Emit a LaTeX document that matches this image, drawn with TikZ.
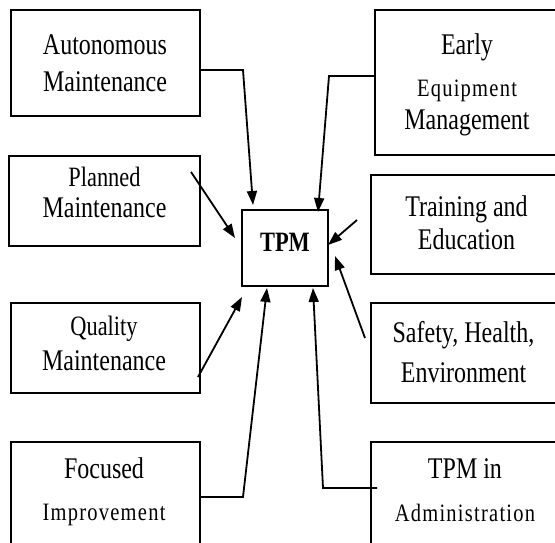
\documentclass[tikz,border=0pt]{standalone}
\usepackage{fontspec}
\setmainfont{Liberation Serif}[FakeStretch=0.8]
\newfontfamily\spc{Liberation Serif}[FakeStretch=0.82,LetterSpace=5]
\usetikzlibrary{arrows.meta}
\newcommand\mystrut{\rule[-7pt]{0pt}{30pt}}
\newcommand\setfs[2]{\fontsize{#1}{#2}\selectfont}
\begin{document}
\begin{tikzpicture}[x=1pt,y=1pt,
  box/.style={draw, line width=1.5pt, rectangle, inner sep=0pt, outer sep=0pt},
  lbl/.style={align=center, inner sep=0pt, outer sep=0pt},
  arr/.style={line width=1.8pt, -{Triangle[length=14pt,width=10pt]}}]
\useasboundingbox (0,0) rectangle (555,542);
\clip (0,0) rectangle (555,542);
\fill[white] (0,0) rectangle (555,542);
% boxes
\node[box, minimum width=189pt, minimum height=106pt] (am) at (105.5,479) {};
\node[box, minimum width=191pt, minimum height=90pt] (pm) at (104.5,341) {};
\node[box, minimum width=189pt, minimum height=90pt] (qm) at (105.5,194) {};
\node[box, minimum width=189pt, minimum height=123pt] (fi) at (105.5,38.5) {};
\node[box, minimum width=187pt, minimum height=145pt] (ee) at (468.5,459.5) {};
\node[box, minimum width=191pt, minimum height=99pt] (te) at (466.5,317.5) {};
\node[box, minimum width=191pt, minimum height=100pt] (sh) at (466.5,189) {};
\node[box, minimum width=191pt, minimum height=123pt] (ad) at (466.5,38.5) {};
\node[box, minimum width=86pt, minimum height=76pt, font={\bfseries\setfs{28}{30}},
      text height=18pt, text depth=10pt] (tpm) at (285,294) {TPM};
% texts
\node[lbl, font={\setfs{30}{37}}] (am-t) at (105,476.5) {\mystrut Autonomous\\\mystrut Maintenance};
\node[lbl, font={\setfs{30}{31}}] (pm-t) at (104.5,347.5) {\mystrut{\setfs{28}{31}Planned}\\\mystrut Maintenance};
\node[lbl, font={\setfs{30}{35}}] (qm-t) at (104,197.5) {\mystrut{\setfs{28}{35}Quality}\\\mystrut Maintenance};
\node[lbl, font={\setfs{30}{42}}] (fi-t) at (104,51) {\mystrut Focused\\\mystrut{\spc\setfs{25}{42}Improvement}};
\node[lbl, font={\setfs{30}{37.5}}] (ee-t) at (467,457.5) {\mystrut Early\\\mystrut\raisebox{-4.5pt}{\spc\setfs{25}{30}Equipment}\\\mystrut Management};
\node[lbl, font={\setfs{30}{33}}] (te-t) at (466.5,316.5) {\mystrut Training and\\\mystrut Education};
\node[lbl, font={\setfs{30}{40}}] (sh-t) at (463.5,188) {\mystrut Safety, Health,\\\mystrut Environment};
\node[lbl, font={\setfs{30}{43}}] (ad-t) at (465,50.5) {\mystrut TPM in\\\mystrut{\spc\setfs{25}{43}Administration}};
% connectors
\draw[arr] ([yshift=-7pt]am.east) -- ++(43,0) -- ([xshift=-32pt,yshift=5pt]tpm.north);
\draw[arr] ([xshift=-9pt,yshift=-16pt]pm.north east) -- ([xshift=-7pt,yshift=10pt]tpm.west);
\draw[arr] ([yshift=6.5pt]ee.west) -- ++(-46,0) -- ([xshift=33pt,yshift=-2pt]tpm.north);
\draw[arr] ([xshift=-14pt,yshift=4.5pt]te.west) -- ([yshift=3pt]tpm.east);
\draw[arr] ([xshift=-6pt,yshift=15pt]sh.west) -- ([xshift=7pt,yshift=-8pt]tpm.east);
\draw[arr] ([xshift=-2pt,yshift=-29pt]qm.east) -- ([xshift=-43pt,yshift=-11pt]tpm.south);
\draw[arr] ([yshift=6.5pt]fi.east) -- ++(43,0) -- ([xshift=-18pt,yshift=-2pt]tpm.south);
\draw[arr] ([xshift=6pt,yshift=15.5pt]ad.west) -- ++(-54,0) -- ([xshift=28pt,yshift=-2pt]tpm.south);
\end{tikzpicture}
\end{document}
